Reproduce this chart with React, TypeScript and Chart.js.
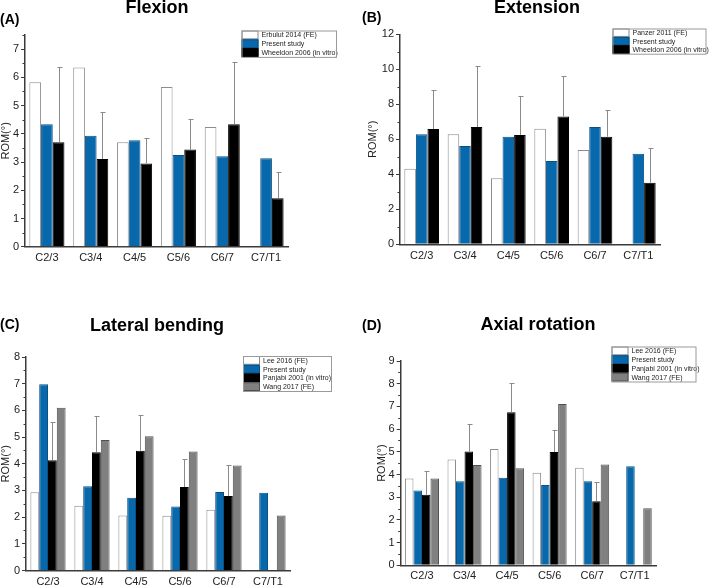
import React, { useEffect, useRef } from "react";
import { Chart, registerables } from "chart.js";

Chart.register(...registerables);

const FONT = "'Liberation Sans', Arial, Helvetica, sans-serif";
Chart.defaults.font.family = FONT;

// ---------- data ----------
const segments = ["C2/3", "C3/4", "C4/5", "C5/6", "C6/7", "C7/T1"];

// (A) Flexion
const flexErbulut = [5.83, 6.35, 3.7, 5.66, 4.24, null];
const flexPresent = [4.34, 3.93, 3.77, 3.25, 3.2, 3.13];
const flexWheeldon = [3.7, 3.11, 2.95, 3.44, 4.34, 1.72];
const flexWheeldonSD = [2.68, 1.67, 0.91, 1.08, 2.19, 0.91];

// (B) Extension
const extPanzer = [4.32, 6.29, 3.77, 6.61, 5.39, null];
const extPresent = [6.29, 5.62, 6.15, 4.76, 6.7, 5.18];
const extWheeldon = [6.59, 6.7, 6.25, 7.31, 6.15, 3.52];
const extWheeldonSD = [2.23, 3.51, 2.25, 2.29, 1.55, 1.97];

// (C) Lateral bending
const latLee = [2.93, 2.43, 2.06, 2.05, 2.28, null];
const latPresent = [6.98, 3.16, 2.73, 2.4, 2.94, 2.91];
const latPanjabi = [4.13, 4.43, 4.49, 3.13, 2.79, null];
const latPanjabiSD = [1.43, 1.35, 1.34, 1.05, 1.15, null];
const latWang = [6.1, 4.89, 5.03, 4.46, 3.93, 2.06];

// (D) Axial rotation
const axLee = [3.82, 4.66, 5.12, 4.08, 4.3, null];
const axPresent = [3.3, 3.7, 3.86, 3.54, 3.7, 4.36];
const axPanjabi = [3.11, 5.01, 6.74, 4.99, 2.82, null];
const axPanjabiSD = [1.03, 1.22, 1.3, 0.97, 0.83, null];
const axWang = [3.82, 4.42, 4.27, 7.11, 4.44, 2.51];

// ---------- styles ----------
const FILL: Record<string, string> = { white: "#ffffff", blue: "#0868ac", black: "#000000", gray: "#808080" };
const EDGE: Record<string, string> = { white: "#8c8c8c", blue: "#0b4f85", black: "#000000", gray: "#505050" };

type Series = { label: string; data: (number | null)[]; kind: string; sd?: (number | null)[] };

type Panel = {
  letter: string;
  title: string;
  series: Series[];
  yMax: number;
  step: number;
  minor: number;
  box: { left: number; top: number; width: number; height: number };
  area: { left: number; top: number; right: number; bottom: number };
  yTitleX: number;
  xPad: number;
  titleX: number;
  titleY: number;
  letterX: number;
  letterY: number;
  legend: { x: number; y: number; w: number; rowH: number; swatch: number };
};

const PANELS: Panel[] = [
  {
    letter: "(A)",
    title: "Flexion",
    series: [
      { label: "Erbulut 2014 (FE)", data: flexErbulut, kind: "white" },
      { label: "Present study", data: flexPresent, kind: "blue" },
      { label: "Wheeldon 2006 (in vitro)", data: flexWheeldon, kind: "black", sd: flexWheeldonSD },
    ],
    yMax: 7.5,
    step: 1,
    minor: 0.5,
    box: { left: 0, top: 0, width: 354, height: 290 },
    area: { left: 25, top: 35, right: 288, bottom: 246.7 },
    yTitleX: 5.5,
    xPad: 5,
    titleX: 157,
    titleY: 8,
    letterX: 0,
    letterY: 20,
    legend: { x: 241.5, y: 30.5, w: 95.5, rowH: 8.8, swatch: 17 },
  },
  {
    letter: "(B)",
    title: "Extension",
    series: [
      { label: "Panzer 2011 (FE)", data: extPanzer, kind: "white" },
      { label: "Present study", data: extPresent, kind: "blue" },
      { label: "Wheeldon 2006 (in vitro)", data: extWheeldon, kind: "black", sd: extWheeldonSD },
    ],
    yMax: 12,
    step: 2,
    minor: 1,
    box: { left: 354, top: 0, width: 355, height: 290 },
    area: { left: 46, top: 34.3, right: 306, bottom: 244.3 },
    yTitleX: 19,
    xPad: 5,
    titleX: 183,
    titleY: 8,
    letterX: 8,
    letterY: 18,
    legend: { x: 258.5, y: 28.5, w: 94, rowH: 8.4, swatch: 17 },
  },
  {
    letter: "(C)",
    title: "Lateral bending",
    series: [
      { label: "Lee 2016 (FE)", data: latLee, kind: "white" },
      { label: "Present study", data: latPresent, kind: "blue" },
      { label: "Panjabi 2001 (in vitro)", data: latPanjabi, kind: "black", sd: latPanjabiSD },
      { label: "Wang 2017 (FE)", data: latWang, kind: "gray" },
    ],
    yMax: 8,
    step: 1,
    minor: 0.5,
    box: { left: 0, top: 290, width: 354, height: 295 },
    area: { left: 26, top: 67, right: 290, bottom: 280.5 },
    yTitleX: 6,
    xPad: 5,
    titleX: 157,
    titleY: 36,
    letterX: 0,
    letterY: 35,
    legend: { x: 243, y: 66, w: 89, rowH: 8.75, swatch: 17 },
  },
  {
    letter: "(D)",
    title: "Axial rotation",
    series: [
      { label: "Lee 2016 (FE)", data: axLee, kind: "white" },
      { label: "Present study", data: axPresent, kind: "blue" },
      { label: "Panjabi 2001 (in vitro)", data: axPanjabi, kind: "black", sd: axPanjabiSD },
      { label: "Wang 2017 (FE)", data: axWang, kind: "gray" },
    ],
    yMax: 9,
    step: 1,
    minor: 0.5,
    box: { left: 354, top: 290, width: 355, height: 295 },
    area: { left: 46.7, top: 71, right: 302, bottom: 275.3 },
    yTitleX: 28,
    xPad: 4,
    titleX: 184,
    titleY: 35.5,
    letterX: 8,
    letterY: 36,
    legend: { x: 257.5, y: 56.5, w: 85, rowH: 8.75, swatch: 17 },
  },
];

const decoPlugin = {
  id: "panelDeco",
  afterDatasetsDraw(chart: any, _a: any, o: any) {
    const ctx = chart.ctx;
    const ys = chart.scales.y;
    chart.data.datasets.forEach((ds: any, di: number) => {
      const sd = ds.sd;
      if (!sd) return;
      const meta = chart.getDatasetMeta(di);
      meta.data.forEach((bar: any, i: number) => {
        const v = ds.data[i];
        const e = sd[i];
        if (v == null || e == null) return;
        const x = Math.round(bar.x) + 0.5;
        const y0 = ys.getPixelForValue(v);
        const y1 = Math.round(ys.getPixelForValue(v + e)) + 0.5;
        ctx.save();
        ctx.strokeStyle = "#8a8a8a";
        ctx.lineWidth = 1;
        ctx.beginPath();
        ctx.moveTo(x, y0);
        ctx.lineTo(x, y1);
        ctx.moveTo(x - 2, y1);
        ctx.lineTo(x + 3, y1);
        ctx.stroke();
        ctx.restore();
      });
    });
  },
  afterDraw(chart: any, _a: any, o: any) {
    const { ctx, chartArea } = chart;
    const ys = chart.scales.y;
    ctx.save();
    // minor ticks on the y axis
    ctx.strokeStyle = "#3a3a3a";
    ctx.lineWidth = 1;
    ctx.beginPath();
    for (let v = o.minor; v <= o.yMax + 1e-9; v += o.minor) {
      const r = v / o.step;
      if (Math.abs(r - Math.round(r)) < 1e-6) continue;
      const py = Math.round(ys.getPixelForValue(v)) + 0.5;
      ctx.moveTo(chartArea.left - 2.5, py);
      ctx.lineTo(chartArea.left, py);
    }
    ctx.stroke();

    // legend (inside box)
    const L = o.legend;
    const n = chart.data.datasets.length;
    ctx.font = `7px ${FONT}`;
    ctx.textBaseline = "middle";
    ctx.textAlign = "left";
    chart.data.datasets.forEach((ds: any, i: number) => {
      const ry = L.y + i * L.rowH;
      ctx.fillStyle = ds.backgroundColor;
      ctx.fillRect(L.x, ry, L.swatch, L.rowH);
      ctx.strokeStyle = ds.borderColor;
      ctx.lineWidth = 1;
      ctx.strokeRect(L.x + 0.5, ry + 0.5, L.swatch - 1, L.rowH - 1);
      ctx.fillStyle = "#222";
      ctx.fillText(ds.label, L.x + L.swatch + 3, ry + L.rowH / 2 + 0.5);
    });
    ctx.strokeStyle = "#9a9a9a";
    ctx.lineWidth = 1;
    ctx.strokeRect(L.x + 0.5, L.y + 0.5, L.w - 1, L.rowH * n);

    // panel title and letter
    ctx.fillStyle = "#000";
    ctx.font = `bold 18px ${FONT}`;
    ctx.textAlign = "center";
    ctx.fillText(o.title, o.titleX, o.titleY);
    ctx.font = `bold 14px ${FONT}`;
    ctx.textAlign = "left";
    ctx.fillText(o.letter, o.letterX, o.letterY);
    ctx.restore();
  },
};

function PanelChart({ p }: { p: Panel }) {
  const ref = useRef<HTMLCanvasElement | null>(null);
  useEffect(() => {
    if (!ref.current) return;
    const titleFontSize = 11;
    const lh = titleFontSize * 1.2;
    const chart = new Chart(ref.current, {
      type: "bar",
      data: {
        labels: segments,
        datasets: p.series.map((s) => ({
          label: s.label,
          data: s.data,
          sd: s.sd,
          backgroundColor: FILL[s.kind],
          borderColor: EDGE[s.kind],
          borderWidth: 1,
          borderSkipped: "bottom",
          categoryPercentage: 0.8,
          barPercentage: 1.0,
        })) as any,
      },
      options: {
        animation: false,
        responsive: false,
        maintainAspectRatio: false,
        layout: {
          padding: { left: 0, top: p.area.top, right: p.box.width - p.area.right, bottom: 0 },
        },
        plugins: {
          legend: { display: false },
          title: { display: false },
          tooltip: { enabled: false },
          panelDeco: {
            title: p.title,
            letter: p.letter,
            titleX: p.titleX,
            titleY: p.titleY,
            letterX: p.letterX,
            letterY: p.letterY,
            legend: p.legend,
            yMax: p.yMax,
            step: p.step,
            minor: p.minor,
          },
        } as any,
        scales: {
          x: {
            type: "category",
            offset: true,
            grid: { display: false, drawTicks: false },
            border: { display: true, color: "#3a3a3a", width: 1.5 },
            ticks: {
              color: "#222",
              font: { size: 11, family: FONT },
              padding: p.xPad,
              maxRotation: 0,
              autoSkip: false,
            },
            afterFit: (s: any) => {
              s.height = p.box.height - p.area.bottom;
            },
          },
          y: {
            min: 0,
            max: p.yMax,
            ticks: {
              stepSize: p.step,
              includeBounds: false,
              color: "#222",
              font: { size: 11, family: FONT },
              padding: 2,
            },
            grid: {
              drawOnChartArea: false,
              drawTicks: true,
              tickLength: 4,
              tickColor: "#3a3a3a",
              tickWidth: 1,
            },
            border: { display: true, color: "#3a3a3a", width: 1.5 },
            title: {
              display: true,
              text: "ROM(°)",
              color: "#222",
              font: { size: titleFontSize, family: FONT },
              padding: { top: p.yTitleX - lh / 2, bottom: 0 },
            },
            afterFit: (s: any) => {
              s.width = p.area.left;
            },
          },
        },
      } as any,
      plugins: [decoPlugin as any],
    });
    return () => chart.destroy();
  }, [p]);
  return (
    <canvas
      ref={ref}
      width={p.box.width}
      height={p.box.height}
      style={{
        position: "absolute",
        left: p.box.left,
        top: p.box.top,
        width: p.box.width,
        height: p.box.height,
        display: "block",
      }}
    />
  );
}

export default function App() {
  return (
    <div
      style={{
        position: "absolute",
        left: 0,
        top: 0,
        width: 709,
        height: 585,
        background: "#ffffff",
        overflow: "hidden",
      }}
    >
      {PANELS.map((p) => (
        <PanelChart key={p.letter} p={p} />
      ))}
    </div>
  );
}
